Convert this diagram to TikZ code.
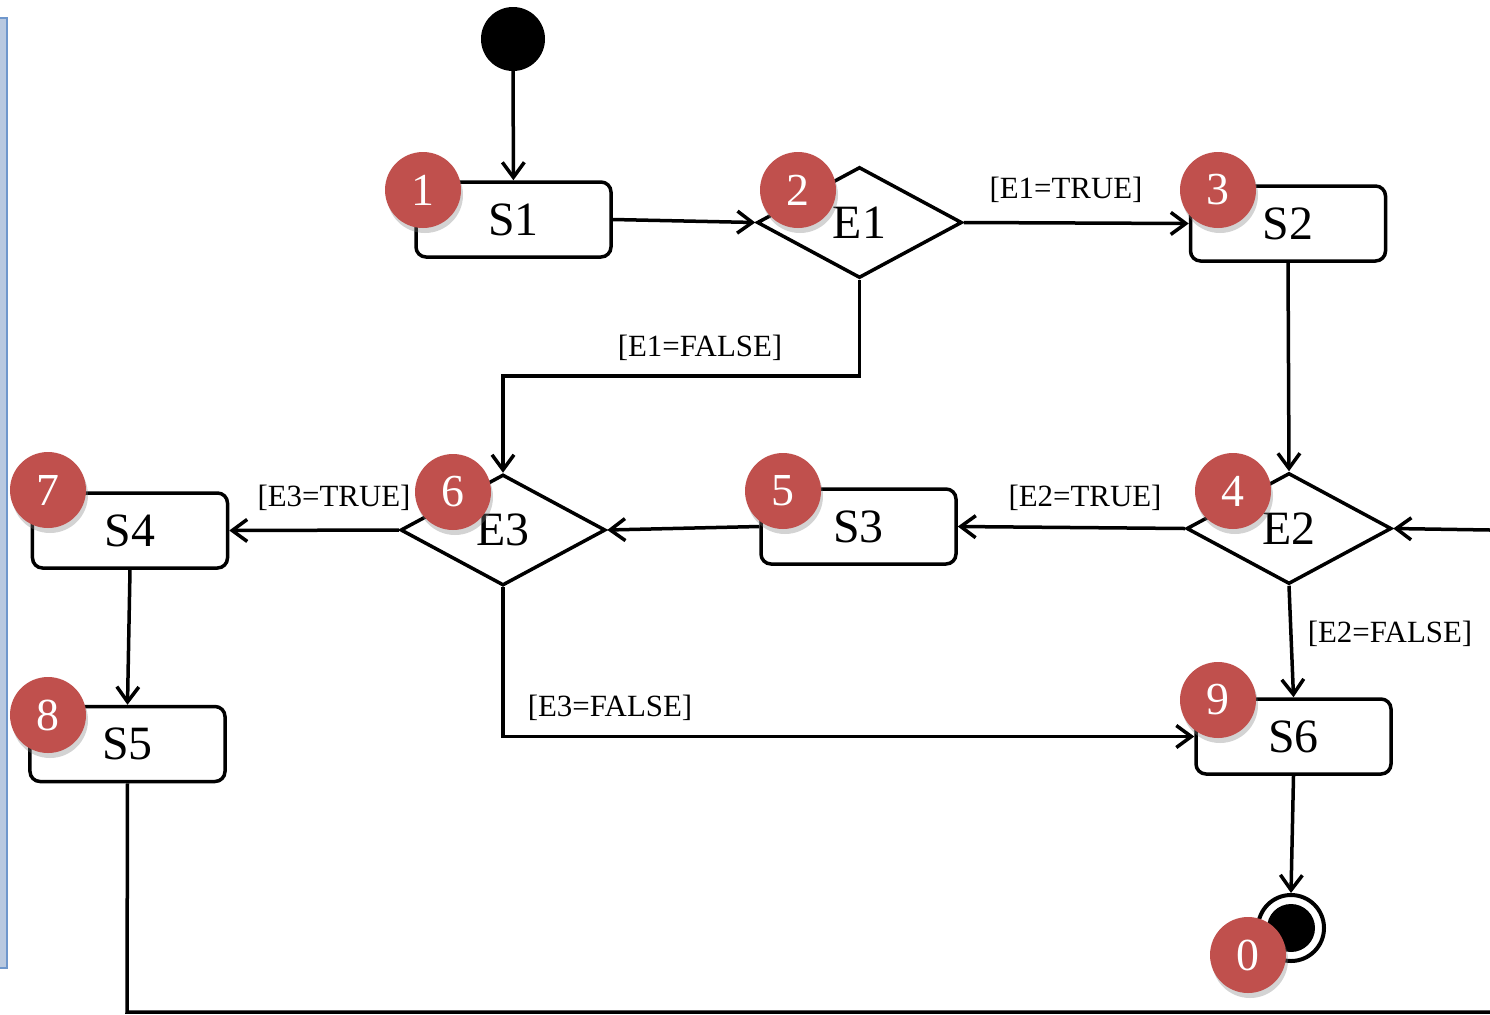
\documentclass[tikz,border=0pt]{standalone}
\usepackage{fontspec}
\setmainfont{Liberation Serif}
\usetikzlibrary{shapes.geometric,arrows.meta,shadows}
\definecolor{badgered}{HTML}{C0504D}
\definecolor{stripfill}{HTML}{B9C9E0}
\definecolor{stripline}{HTML}{6F97CC}
\begin{document}
\begin{tikzpicture}[x=1bp,y=-1bp,
  statebox/.style={draw, line width=3.5bp, rounded corners=10bp, minimum width=195bp, minimum height=75bp, inner sep=0pt, font=\fontsize{48}{50}\selectfont},
  decision/.style={draw, diamond, line width=3.5bp, minimum width=205bp, minimum height=111bp, inner sep=0pt, font=\fontsize{48}{50}\selectfont},
  lbl/.style={inner sep=0pt, font=\fontsize{31}{33}\selectfont},
  badge/.style={circle, fill=badgered, minimum size=76bp, inner sep=0pt, text=white, font=\fontsize{46}{48}\selectfont, drop shadow={opacity=0.35, shadow xshift=2bp, shadow yshift=-5bp}},
  flow/.style={line width=3.5bp, -{Straight Barb[length=15bp, width=22bp, line width=3.5bp]}},
  plain/.style={line width=3.5bp}
]
\useasboundingbox (0,0) rectangle (1490,1014);
% left strip
\filldraw[fill=stripfill, draw=stripline, line width=1.5bp] (-5,18) rectangle (7,968);

% initial and final states
\node[circle, fill=black, minimum size=64bp, inner sep=0pt] (init) at (513,39) {};
\node[circle, draw, line width=4bp, fill=white, minimum size=66bp, inner sep=0pt] (final) at (1291,928) {};
\node[circle, fill=black, minimum size=48bp, inner sep=0pt] (finalin) at (1291,928) {};

% states
\node[statebox] (s1) at (513.5,219.5) {S1};
\node[statebox] (s2) at (1288,223.5) {S2};
\node[statebox] (s3) at (858.5,526.5) {S3};
\node[statebox] (s4) at (130,530.5) {S4};
\node[statebox] (s5) at (127.5,744) {S5};
\node[statebox] (s6) at (1293.5,736.5) {S6};

% decisions
\node[decision] (e1) at (859.5,222.5) {E1};
\node[decision] (e2) at (1289,528.5) {E2};
\node[decision] (e3) at (503,530) {E3};

% helper coordinates
\coordinate (rin) at (1490,530);
\coordinate (bl) at (127,1012);
\coordinate (br) at (1490,1012);

% connectors
\draw[flow] (init) -- (s1);
\draw[flow] (s1.east) -- (e1.west);
\draw[flow] (e1.east) -- (s2.west);
\draw[flow] (e1.south) -- (e1.south |- 0,376) -| (e3.north);
\draw[flow] (s2.south) -- (e2.north);
\draw[flow] (rin) -- (e2.east);
\draw[flow] (e2.west) -- (s3.east);
\draw[flow] (s3.west) -- (e3.east);
\draw[flow] (e3.west) -- (s4.east);
\draw[flow] (s4.south) -- (s5.north);
\draw[flow] (e3.south) |- (s6.west);
\draw[flow] (e2.south) -- (s6.north);
\draw[flow] (s6.south) -- (final.north);
\draw[plain] (s5.south) -- (bl) -- (br);

% labels
\node[lbl] (l1) at (1066,190) {[E1=TRUE]};
\node[lbl] (l2) at (700,348) {[E1=FALSE]};
\node[lbl] (l3) at (1085,498) {[E2=TRUE]};
\node[lbl] (l4) at (334,498) {[E3=TRUE]};
\node[lbl] (l5) at (610,708) {[E3=FALSE]};
\node[lbl] (l6) at (1390,634) {[E2=FALSE]};

% badges
\node[badge] (b1) at (423,190) {1};
\node[badge] (b2) at (798,190) {2};
\node[badge] (b3) at (1218,190) {3};
\node[badge] (b4) at (1233,491) {4};
\node[badge] (b5) at (783,491) {5};
\node[badge] (b6) at (453,492) {6};
\node[badge] (b7) at (48,490) {7};
\node[badge] (b8) at (48,715) {8};
\node[badge] (b9) at (1218,700) {9};
\node[badge] (b0) at (1248,955) {0};
\end{tikzpicture}
\end{document}
